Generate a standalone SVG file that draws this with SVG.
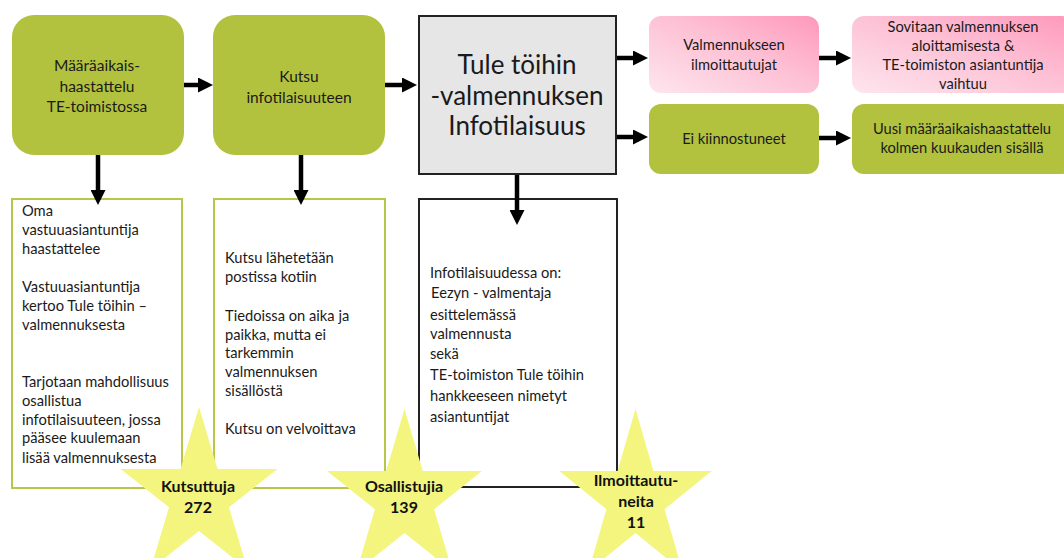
<svg xmlns="http://www.w3.org/2000/svg" width="1064" height="558" viewBox="0 0 1064 558">
  <defs>
    <style>
      text { font-family: Lato, "Liberation Sans", sans-serif; fill: #1a1a1a; }
      .t { font-size: 15.5px; }
      .body { font-size: 14.7px; }
      .big { font-size: 26px; }
      .ctr { text-anchor: middle; }
      .star-t { font-size: 16px; font-weight: bold; text-anchor: middle; fill: #111; }
      .green { fill: #b2c23e; }
      .pink { fill: url(#pinkGrad); }
      .gbox { fill: #ffffff; stroke: #b6c74a; stroke-width: 2; }
      .kbox { fill: #ffffff; stroke: #222222; stroke-width: 2; }
      .arrow { stroke: #000; stroke-width: 4.5; fill: none; marker-end: url(#head); }
      .star { fill: #f3f57f; }
    </style>
    <linearGradient id="pinkGrad" x1="0" y1="1" x2="1" y2="0">
      <stop offset="0" stop-color="#fde6ee"/>
      <stop offset="0.55" stop-color="#fdc0d4"/>
      <stop offset="1" stop-color="#ff98bb"/>
    </linearGradient>
    <marker id="head" viewBox="0 0 15 15" refX="3" refY="7.5" markerWidth="15" markerHeight="15" markerUnits="userSpaceOnUse" orient="auto">
      <path d="M0,0 L15,7.5 L0,15 Z" fill="#000"/>
    </marker>
    <!-- unit five-point star, scaled per use -->
    <path id="star5" d="M0,-1 L0.2245,-0.309 L0.9511,-0.309 L0.3633,0.118 L0.5878,0.809 L0,0.382 L-0.5878,0.809 L-0.3633,0.118 L-0.9511,-0.309 L-0.2245,-0.309 Z"/>
  </defs>

  <!-- top row -->
  <g id="node-maaraaikais">
    <rect class="green" x="12" y="15" width="172" height="140" rx="22"/>
    <text class="t ctr" x="97" y="71">Määräaikais-</text>
    <text class="t ctr" x="97" y="92">haastattelu</text>
    <text class="t ctr" x="97" y="112">TE-toimistossa</text>
  </g>

  <g id="node-kutsu">
    <rect class="green" x="213" y="15" width="172" height="140" rx="22"/>
    <text class="t ctr" x="299" y="82">Kutsu</text>
    <text class="t ctr" x="299" y="103">infotilaisuuteen</text>
  </g>

  <g id="node-infotilaisuus">
    <rect x="419" y="16" width="197" height="158" fill="#e6e6e6" stroke="#222" stroke-width="2"/>
    <text class="big ctr" x="517" y="74">Tule töihin</text>
    <text class="big ctr" x="517" y="105">-valmennuksen</text>
    <text class="big ctr" x="517" y="135">Infotilaisuus</text>
  </g>

  <g id="node-ilmoittautujat">
    <rect class="pink" x="649" y="16" width="170" height="77" rx="12"/>
    <text class="body ctr" x="734" y="50">Valmennukseen</text>
    <text class="body ctr" x="734" y="70">ilmoittautujat</text>
  </g>

  <g id="node-sovitaan">
    <rect class="pink" x="852" y="16" width="222" height="77" rx="12"/>
    <text class="body ctr" x="963" y="32">Sovitaan valmennuksen</text>
    <text class="body ctr" x="963" y="51">aloittamisesta &amp;</text>
    <text class="body ctr" x="963" y="70">TE-toimiston asiantuntija</text>
    <text class="body ctr" x="963" y="89">vaihtuu</text>
  </g>

  <g id="node-ei-kiinnostuneet">
    <rect class="green" x="649" y="104" width="170" height="70" rx="12"/>
    <text class="body ctr" x="734" y="144">Ei kiinnostuneet</text>
  </g>

  <g id="node-uusi">
    <rect class="green" x="852" y="104" width="222" height="70" rx="12"/>
    <text class="body ctr" x="962" y="134">Uusi määräaikaishaastattelu</text>
    <text class="body ctr" x="962" y="153">kolmen kuukauden sisällä</text>
  </g>

  <!-- description boxes -->
  <g id="desc-haastattelu">
    <rect class="gbox" x="12" y="199" width="170" height="289"/>
    <text class="body" x="22" y="216">Oma</text>
    <text class="body" x="22" y="235">vastuuasiantuntija</text>
    <text class="body" x="22" y="254">haastattelee</text>
    <text class="body" x="22" y="292">Vastuuasiantuntija</text>
    <text class="body" x="22" y="311">kertoo Tule töihin –</text>
    <text class="body" x="22" y="330">valmennuksesta</text>
    <text class="body" x="22" y="387">Tarjotaan mahdollisuus</text>
    <text class="body" x="22" y="406">osallistua</text>
    <text class="body" x="22" y="425">infotilaisuuteen, jossa</text>
    <text class="body" x="22" y="443">pääsee kuulemaan</text>
    <text class="body" x="22" y="463">lisää valmennuksesta</text>
  </g>

  <g id="desc-kutsu">
    <rect class="gbox" x="214" y="199" width="171" height="289"/>
    <text class="body" x="225" y="263">Kutsu lähetetään</text>
    <text class="body" x="225" y="282">postissa kotiin</text>
    <text class="body" x="225" y="321">Tiedoissa on aika ja</text>
    <text class="body" x="225" y="340">paikka, mutta ei</text>
    <text class="body" x="225" y="358">tarkemmin</text>
    <text class="body" x="225" y="377">valmennuksen</text>
    <text class="body" x="225" y="396">sisällöstä</text>
    <text class="body" x="225" y="434">Kutsu on velvoittava</text>
  </g>

  <g id="desc-infotilaisuus">
    <rect class="kbox" x="419" y="199" width="198" height="288"/>
    <text class="body" x="430" y="278">Infotilaisuudessa on:</text>
    <text class="body" x="431" y="298">Eezyn - valmentaja</text>
    <text class="body" x="430" y="320">esittelemässä</text>
    <text class="body" x="430" y="339">valmennusta</text>
    <text class="body" x="430" y="359">sekä</text>
    <text class="body" x="430" y="380">TE-toimiston Tule töihin</text>
    <text class="body" x="430" y="401">hankkeeseen nimetyt</text>
    <text class="body" x="430" y="422">asiantuntijat</text>
  </g>

  <!-- connectors, drawn over the box edges they point into -->
  <g id="connectors">
    <line class="arrow" x1="184" y1="85" x2="201" y2="85"/>
    <line class="arrow" x1="385" y1="85" x2="405" y2="85"/>
    <line class="arrow" x1="617" y1="58" x2="636" y2="58"/>
    <line class="arrow" x1="617" y1="137" x2="636" y2="137"/>
    <line class="arrow" x1="819" y1="58" x2="839" y2="58"/>
    <line class="arrow" x1="819" y1="138" x2="839" y2="138"/>
    <line class="arrow" x1="98" y1="155" x2="98" y2="193"/>
    <line class="arrow" x1="301" y1="155" x2="301" y2="193"/>
    <line class="arrow" x1="517" y1="175" x2="517" y2="213"/>
  </g>

  <!-- count stars -->
  <g id="star-kutsuttuja">
    <use href="#star5" class="star" transform="translate(199 496.7) scale(82.5 89.7)"/>
    <text class="star-t" x="198" y="492">Kutsuttuja</text>
    <text class="star-t" x="198" y="513">272</text>
  </g>

  <g id="star-osallistujia">
    <use href="#star5" class="star" transform="translate(404.5 498.7) scale(81.5 89.7)"/>
    <text class="star-t" x="404" y="492">Osallistujia</text>
    <text class="star-t" x="404" y="513">139</text>
  </g>

  <g id="star-ilmoittautuneita">
    <use href="#star5" class="star" transform="translate(635.5 498.7) scale(80 89.7)"/>
    <text class="star-t" x="636" y="486">Ilmoittautu-</text>
    <text class="star-t" x="636" y="507">neita</text>
    <text class="star-t" x="636" y="528">11</text>
  </g>
</svg>
